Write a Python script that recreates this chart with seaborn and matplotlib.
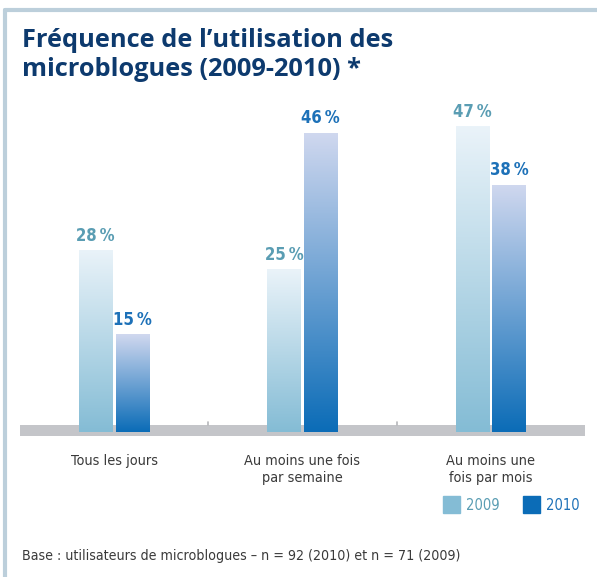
import numpy as np
import pandas as pd
import seaborn as sns
import matplotlib.pyplot as plt
from matplotlib.colors import LinearSegmentedColormap
from matplotlib.lines import Line2D
from matplotlib.patches import Rectangle

# data
categories = ["Tous les jours", "Au moins une fois\npar semaine", "Au moins une\nfois par mois"]
years = ["2009", "2010"]
values_2009 = [28, 25, 47]
values_2010 = [15, 46, 38]

df = pd.DataFrame({
    "cat": categories * 2,
    "year": ["2009"] * 3 + ["2010"] * 3,
    "val": values_2009 + values_2010,
})

sns.set_style("white")
narrow = ["DejaVu Sans"]
title_font = ["Open Sans", "DejaVu Sans"]

c09_light, c09_dark = "#eaf3f9", "#84bcd5"
c10_light, c10_dark = "#d0d8ef", "#0b6cb7"
c09_text, c10_text = "#5a9db3", "#1d71b8"

fig = plt.figure(figsize=(5.97, 5.77), dpi=100)
ax = fig.add_axes([20 / 597, (577 - 436) / 577, 565 / 597, 336 / 577])

sns.barplot(data=df, x="cat", y="val", hue="year", order=categories, hue_order=years,
            palette=[c09_dark, c10_dark], width=0.39, gap=0.08, legend=False, ax=ax,
            zorder=3)

ax.set_xlim(-0.5, 2.5)
ax.set_ylim(-0.614, 51.0)
ax.axis("off")

# gray baseline band
ax.axhspan(-0.614, 1.1, color="#c4c5c9", zorder=1, lw=0)
for xs in [0.5, 1.5]:
    ax.plot([xs, xs], [1.1, 1.5], color="#b5b6ba", lw=1.2, zorder=1)

# gradient fill for each bar
cmaps = {
    "2009": LinearSegmentedColormap.from_list("g09", [c09_dark, c09_light]),
    "2010": LinearSegmentedColormap.from_list("g10", [c10_dark, c10_light]),
}
grad = np.linspace(0, 1, 256).reshape(-1, 1)
for cont, yr, col in zip(ax.containers, years, [c09_text, c10_text]):
    for bar, v in zip(cont, cont.datavalues):
        x0, w = bar.get_x(), bar.get_width()
        bar.set_facecolor("none")
        bar.set_edgecolor("none")
        im = ax.imshow(grad, cmap=cmaps[yr], aspect="auto", origin="lower",
                       extent=[x0, x0 + w, 0, v], zorder=3)
        im.set_clip_path(bar)
        ax.text(x0 + w / 2, v + 0.8, f"{int(v)}\u202f%", ha="center", va="bottom",
                fontsize=12, fontweight="semibold", fontstretch="condensed",
                color=col, family=narrow)
ax.set_xlim(-0.5, 2.5)
ax.set_ylim(-0.614, 51.0)

# category labels
for i, c in enumerate(categories):
    ax.text(i, -3.4, c, ha="center", va="top", fontsize=10.4, color="#3a3a3a",
            fontstretch="condensed", family=narrow, linespacing=1.25)

# title
fig.text(22 / 597, 1 - 28 / 577, "Fréquence de l’utilisation des\nmicroblogues (2009-2010) *",
         ha="left", va="top", fontsize=18.3, fontweight="bold", fontstretch="normal",
         color="#0d3a6e", family=title_font, linespacing=1.22)

# legend
fig.patches.append(Rectangle((443 / 597, 1 - 513 / 577), 17 / 597, 17 / 577,
                             transform=fig.transFigure, color=c09_dark))
fig.patches.append(Rectangle((523 / 597, 1 - 513 / 577), 17 / 597, 17 / 577,
                             transform=fig.transFigure, color=c10_dark))
fig.text(466 / 597, 1 - 505 / 577, "2009", ha="left", va="center", fontsize=10.5,
         fontstretch="condensed", color=c09_text, family=narrow)
fig.text(546 / 597, 1 - 505 / 577, "2010", ha="left", va="center", fontsize=10.5,
         fontstretch="condensed", color=c10_text, family=narrow)

# footer
fig.text(22 / 597, 1 - 556 / 577,
         "Base : utilisateurs de microblogues – n = 92 (2010) et n = 71 (2009)",
         ha="left", va="center", fontsize=10.2, color="#3a3a3a",
         fontstretch="condensed", family=narrow)

# card border (top and left)
fig.lines.append(Line2D([5 / 597, 1], [1 - 10 / 577, 1 - 10 / 577],
                        transform=fig.transFigure, color="#bccfdb", lw=3))
fig.lines.append(Line2D([5 / 597, 5 / 597], [0, 1 - 10 / 577],
                        transform=fig.transFigure, color="#bccfdb", lw=3))

fig.savefig("out.png", dpi=100)
